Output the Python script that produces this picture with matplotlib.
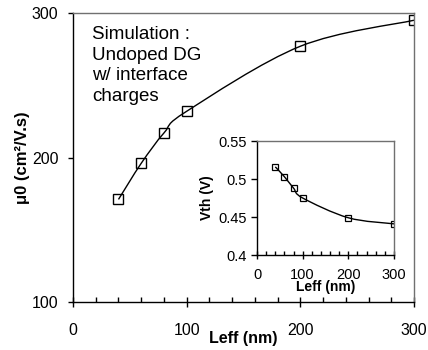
import matplotlib
matplotlib.use('Agg')
import matplotlib.pyplot as plt
from matplotlib.path import Path
from matplotlib.patches import PathPatch
from matplotlib.ticker import MultipleLocator

plt.rcParams['font.family'] = ['Liberation Sans', 'DejaVu Sans']

leff = [40, 60, 80, 100, 200, 300]
mu0 = [171, 196, 217, 232, 277, 295]
vth = [0.516, 0.503, 0.488, 0.475, 0.449, 0.441]

main_xticks = [0, 100, 200, 300]
main_yticks = [100, 200, 300]
inset_yticks = [0.4, 0.45, 0.5, 0.55]
inset_yticklabels = ['0.4', '0.45', '0.5', '0.55']

note = 'Simulation :\nUndoped DG\nw/ interface\ncharges'


def smooth_path(xs, ys):
    # Excel-style smoothed line: Catmull-Rom segments written as cubic Beziers
    pts = list(zip(xs, ys))
    n = len(pts)
    verts = [pts[0]]
    codes = [Path.MOVETO]
    for i in range(n - 1):
        p0 = pts[max(i - 1, 0)]
        p1 = pts[i]
        p2 = pts[i + 1]
        p3 = pts[min(i + 2, n - 1)]
        c1 = (p1[0] + (p2[0] - p0[0]) / 6, p1[1] + (p2[1] - p0[1]) / 6)
        c2 = (p2[0] - (p3[0] - p1[0]) / 6, p2[1] - (p3[1] - p1[1]) / 6)
        verts += [c1, c2, p2]
        codes += [Path.CURVE4] * 3
    return Path(verts, codes)


def style_axes(ax, label_size, minor_len, major_len, xpad, ylen, ypad):
    for side in ['top', 'right']:
        ax.spines[side].set_color('#707070')
    for spine in ax.spines.values():
        spine.set_linewidth(1.0)
    ax.xaxis.set_minor_locator(MultipleLocator(20))
    ax.tick_params(axis='x', which='major', direction='inout', length=major_len,
                   width=1, labelsize=label_size, pad=xpad)
    ax.tick_params(axis='x', which='minor', direction='in', length=minor_len, width=1)
    ax.tick_params(axis='y', which='major', direction='out', length=ylen,
                   width=1, labelsize=label_size, pad=ypad)


fig = plt.figure(figsize=(4.28, 3.5), dpi=100)

ax = fig.add_axes([0.1706, 0.1371, 0.7967, 0.8257])
ax.add_patch(PathPatch(smooth_path(leff, mu0), facecolor='none', edgecolor='black', lw=1.0))
ax.plot(leff, mu0, ls='none', marker='s', ms=7, mfc='none', mec='black', mew=1.0)
ax.set_xlim(0, 300)
ax.set_ylim(100, 300)
ax.set_xticks(main_xticks)
ax.set_yticks(main_yticks)
style_axes(ax, 11.5, 3.5, 6.5, 12, 3.6, 7)
ax.set_xlabel('Leff (nm)', fontsize=11.5, fontweight='bold', labelpad=-5)
ax.set_ylabel('μ0 (cm²/V.s)', fontsize=12, fontweight='bold', labelpad=1)
ax.text(0.056, 0.955, note, transform=ax.transAxes, fontsize=13.5,
        va='top', ha='left', linespacing=1.28)

ins = fig.add_axes([0.6005, 0.2714, 0.3201, 0.3257])
ins.add_patch(PathPatch(smooth_path(leff, vth), facecolor='none', edgecolor='black', lw=1.0))
ins.plot(leff, vth, ls='none', marker='s', ms=4, mfc='none', mec='black', mew=0.9)
ins.set_xlim(0, 300)
ins.set_ylim(0.4, 0.55)
ins.set_xticks(main_xticks)
ins.set_yticks(inset_yticks)
ins.set_yticklabels(inset_yticklabels)
style_axes(ins, 10.5, 3, 6, 6, 4, 3.5)
ins.set_xlabel('Leff (nm)', fontsize=10, fontweight='bold', labelpad=-1)
ins.set_ylabel('Vth (V)', fontsize=10, fontweight='bold', labelpad=3)

fig.savefig('out.png', dpi=100)
